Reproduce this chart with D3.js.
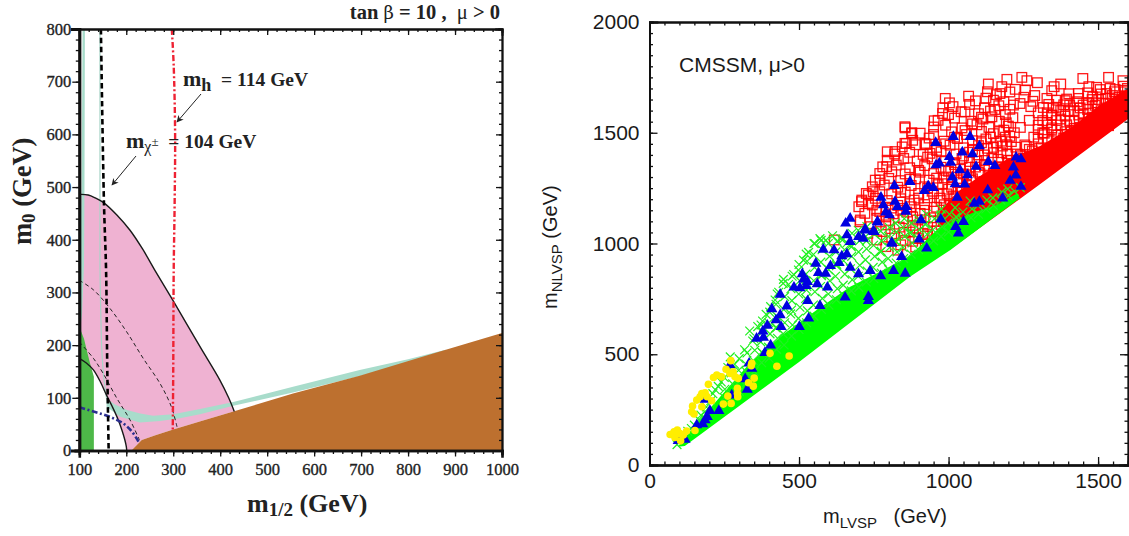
<!DOCTYPE html>
<html><head><meta charset="utf-8">
<script src="https://cdn.jsdelivr.net/npm/d3@7"></script>
<style>
html,body{margin:0;padding:0;background:#fff}
svg{display:block}
text{white-space:pre}
.serif{font-family:"Liberation Serif",serif;font-weight:bold;fill:#222}
.sans{font-family:"Liberation Sans",sans-serif;fill:#1a1a1a}
</style></head><body>
<svg id="c" width="1129" height="536"></svg>
<script>
// ---------- left panel data (m1/2, m0 in GeV)
const leftXTicks=[100,200,300,400,500,600,700,800,900,1000];
const leftYTicks=[0,100,200,300,400,500,600,700,800];
const brownEdge=[[211,0],[222,10],[233,20],[262,29],[300,40],[360,56],[428,74],[555,108],[697,142],[850,183],[1000,223]];
const pinkUpper=[[100,486],[119,485],[135,479],[151,471],[180,447],[208,418],[235,382],[261,342],[300,284],[357,197],[399,134],[418,100],[430,74]];
const lowerCurve=[[100,175],[115,166],[130,153],[145,130],[158,105],[172,80],[183,58],[191,38],[197,20],[200,8],[201,0]];
const greenEdge=[[100,0],[100,230],[104,226],[110,212],[116,190],[123,165],[131,140],[131,0]];
const tealBandUpper=[[158,99],[175,88],[201,77],[230,70],[257,66],[300,69],[357,79],[428,92],[555,121],[697,153],[800,173],[880,191]];
const tealBandLower=[[158,83],[187,64],[229,53],[272,56],[314,61],[357,69],[428,85],[555,110],[697,141],[800,167],[880,190]];
const tealStem=[[107,800],[112,800],[111,500],[110,350],[106,260],[102,230],[100,230],[101,350],[105,500]];
const tealThin=[[144,800],[144,500],[144,350],[146,250],[148,190],[152,140],[158,99]];
const contourOuter=[[100,323],[130,305],[165,270],[201,225],[236,175],[272,127],[296,83],[308,45]];
const contourInner=[[100,206],[130,175],[151,146],[180,99],[208,58],[228,20]];
const blueLine=[[100,82],[130,74],[162,65],[194,51],[212,36],[226,17]];
const charginoLine=[[146,800],[152.5,470],[157,342],[159.6,152],[162.5,0]];
const higgsLine=[[297,800],[301,730],[304,600],[303,470],[301,342],[300,150],[299,40]];

// ---------- right panel data (mLVSP, mNLVSP in GeV)
const rightXTicks=[0,500,1000,1500];
const rightYTicks=[0,500,1000,1500,2000];
const redSolid=[[1000,968],[1300,1262],[1600,1562],[1600,1700],[1500,1620],[1418,1530],[1306,1440],[1195,1380],[1100,1300],[1027,1230],[960,1130]];
const greenSolid=[[95,82],[118,86],[500,465],[871,850],[1005,970],[1239,1205],[1228,1226],[1161,1175],[1083,1140],[971,1075],[871,945],[782,880],[671,805],[559,700],[448,590],[336,460],[147,172]];
const redSquares=[
[1535,1750],[1449,1745],[1469,1708],[1375,1720],[1245,1750],[1262,1735],[1195,1741],[1297,1726],[1353,1708],[1133,1720],[1178,1708],[1223,1696],[1130,1685],[989,1655],[1003,1635],[981,1613],[980,1587],[952,1554],[855,1522],[877,1500],[925,1447],[858,1452],[1067,1665],[1042,1595],[1145,1572],[1193,1545],[1150,1647],[1172,1677],[1257,1693],[1317,1614],[1239,1632],[1217,1625],[1507,1695],[1557,1695],[1583,1735],[1434,1677],[1529,1677],[1468,1632],[1362,1647],[1329,1655],[1598,1700],[1590,1665],[618,1016],[709,1189],[732,1219],[771,1287],[793,1347],[795,1414],[854,1452],[821,1415],[854,1527],[877,1497],[921,1452],[938,1407],[832,1377],[732,1181],[748,1234],[704,1098],
[1160,1672],[1205,1684],[1288,1668],[1345,1690],[1402,1676],[1482,1662],[1548,1668],[1090,1644],[1125,1656],[1185,1640],[1252,1660],[1282,1642],[1335,1628],[1395,1652],[1430,1640],[1502,1650],[1570,1644],[1592,1630],
[1015,1618],[1070,1628],[1120,1612],[1168,1622],[1205,1606],[1275,1618],[1350,1612],[1385,1626],[1440,1612],[1490,1624],[1540,1610],[1585,1600],[1000,1582],[1055,1594],[1100,1586],[1140,1598],[1190,1582],[1300,1590],[1345,1578],[1400,1596],[1450,1586],[1500,1592],[1530,1576],[1570,1590],[1596,1612],
[965,1556],[1020,1566],[1075,1552],[1115,1562],[1170,1552],[1215,1568],[1270,1556],[1330,1546],[1375,1562],[1420,1552],[1470,1566],[1520,1556],[1560,1572],
[950,1526],[990,1534],[1045,1522],[1095,1536],[1135,1524],[1185,1512],[1240,1524],[1300,1534],[1345,1522],[1395,1536],[1440,1524],[1480,1540],[1535,1532],
[905,1498],[950,1492],[1010,1504],[1060,1492],[1110,1506],[1150,1496],[1205,1484],[1320,1498],[1365,1490],[1410,1504],[1450,1496],[1500,1522],
[880,1466],[935,1476],[985,1462],[1030,1474],[1080,1464],[1125,1472],[1175,1462],[1300,1472],[1345,1464],[1385,1476],[1430,1470],
[845,1436],[890,1446],[960,1434],[1005,1444],[1050,1432],[1100,1442],[1150,1434],[1195,1446],[1260,1438],[1310,1432],[1360,1444],[1400,1460],
[820,1404],[870,1412],[915,1402],[975,1414],[1025,1404],[1070,1412],[1120,1400],[1175,1410],[1230,1404],[1280,1418],[1335,1410],
[795,1376],[850,1384],[895,1372],[945,1382],[990,1374],[1045,1384],[1095,1372],[1145,1384],[1200,1376],[1250,1384],[1300,1392],
[780,1346],[825,1354],[870,1342],[920,1352],[975,1344],[1020,1356],[1070,1344],[1120,1352],[1170,1346],[1220,1354],[1270,1362],
[770,1316],[810,1324],[855,1314],[905,1322],[950,1316],[1000,1326],[1050,1314],[1100,1322],[1150,1316],[1195,1326],
[755,1286],[800,1294],[840,1284],[890,1292],[935,1286],[985,1296],[1030,1284],[1080,1292],[1130,1286],[1175,1296],
[745,1256],[785,1264],[830,1254],[875,1262],[920,1256],[965,1266],[1010,1254],[1060,1262],[1105,1256],[1150,1264],
[725,1226],[770,1234],[810,1224],[855,1232],[900,1226],[945,1236],[995,1224],[1040,1232],[1085,1228],[1130,1236],
[710,1196],[755,1204],[795,1194],[840,1202],[885,1196],[930,1206],[975,1194],[1020,1202],[1065,1200],
[700,1166],[745,1174],[790,1164],[830,1172],[875,1166],[920,1176],[960,1164],[1005,1172],[1050,1170],
[720,1136],[770,1144],[815,1134],[860,1142],[905,1136],[950,1146],[995,1134],[1040,1142],
[705,1106],[760,1114],[800,1104],[850,1112],[895,1106],[940,1116],[985,1104],
[740,1076],[790,1084],[835,1074],[880,1082],[930,1076],[975,1086],[730,1046],[775,1054],[820,1044],[870,1052],[915,1046],[960,1056],[760,1016],[810,1024],[855,1014],[900,1022],[945,1016],[790,986],[840,994],[890,984]];
const redSquaresDense=[
[1000,1150],[1030,1185],[1060,1215],[1090,1250],[1120,1280],[1150,1310],[1180,1345],[1210,1375],[1240,1400],[1270,1425],[1300,1450],[1330,1470],[1360,1490],[1390,1505],[1420,1520],[1450,1545],[1480,1570],[1510,1600],[1540,1630],[1570,1660],[1590,1685],
[985,1175],[1015,1215],[1045,1250],[1075,1285],[1105,1315],[1135,1345],[1165,1380],[1195,1405],[1225,1435],[1255,1445],[1285,1480],[1315,1500],[1345,1515],[1375,1535],[1405,1555],[1435,1580],[1465,1605],[1495,1635],[1525,1655],[1555,1685],[1585,1710],
[970,1205],[1000,1245],[1030,1275],[1060,1310],[1090,1345],[1120,1375],[1150,1410],[1180,1440],[1210,1460],[1300,1515],[1330,1535],[1360,1555],[1390,1575],[1420,1600],[1450,1625],[1480,1650],[1510,1675],[1540,1700],
[950,1225],[980,1270],[1010,1300],[1040,1335],[1070,1370],[1100,1400],[1130,1430],[1160,1455],[1190,1480],[1220,1500],[1315,1555],[1345,1580],[1375,1600],[1405,1625],[1435,1655],[1465,1680],[1495,1705],
[930,1250],[960,1295],[990,1330],[1020,1365],[1050,1395],[1080,1425],[1110,1455],[1140,1480],[1170,1505],[1200,1530],[1330,1590],[1360,1615],[1390,1645],
[900,1205],[870,1180],[840,1150],[880,1120],[920,1150],[950,1100],[980,1120],[1005,1130],[930,1040],[960,1010],[990,1060],[880,1010],[830,970],[850,1050],[890,1070],[1020,1120],[1040,1160],[1060,1170],[1080,1180],[1100,1200],[1120,1230],[1140,1260],[1170,1280],[1190,1310],
[760,1150],[790,1120],[810,1160],[840,1230],[870,1290],[900,1330],[930,1390],[960,1420],[990,1450],[1020,1480],[1055,1510],[1080,1540],[1110,1570],[1155,1605]];
const greenCrosses=[
[92,92],[105,118],[128,152],[150,180],[172,225],[190,262],[212,322],[230,355],[250,395],[262,440],[270,488],[285,455],[300,480],[318,520],[335,605],[345,560],[362,625],[378,650],[390,680],[405,715],[420,745],[432,780],[448,838],[465,815],[482,860],[500,905],[515,925],[532,960],[550,1000],[570,1022],[590,1015],[612,1035],[640,1022],[660,1002],
[250,304],[252,342],[300,332],[303,382],[298,428],[350,422],[347,472],[352,518],[349,570],[400,482],[398,532],[403,592],[399,642],[402,690],[450,542],[447,592],[452,642],[449,702],[452,760],[447,820],
[500,612],[498,662],[503,712],[499,772],[502,832],[498,880],[550,672],[548,722],[553,782],[549,832],[552,892],[548,950],[553,1000],
[600,722],[598,772],[603,832],[599,882],[602,942],[598,1000],[650,762],[648,812],[653,862],[649,922],[652,972],[648,1020],
[700,802],[698,852],[703,902],[699,962],[702,1012],[698,1060],[750,842],[748,892],[753,942],[749,992],[752,1042],
[800,882],[798,932],[803,982],[799,1032],[802,1072],[850,932],[848,982],[853,1032],[849,1072],[852,1112],
[900,972],[898,1022],[903,1062],[899,1112],[950,1012],[948,1062],[953,1112],[1000,1052],[998,1092],[1003,1132],[1050,1102],[1048,1142],[1100,1132],[1098,1172],[1150,1172],[1148,1206],[1200,1216],[1198,1246],[1240,1252],
[725,1012],[775,965],[825,1008],[875,1050],[925,1090],[975,1130],[1025,1120],[675,985],[625,900],[575,855],[525,790],[475,700],[425,620],[375,510],[325,420]];
const greenCrossesDense=[
[115,130],[140,165],[165,205],[185,240],[205,290],[220,340],[240,375],
[275,322],[278,366],[273,416],[325,372],[328,412],[322,456],[326,506],[375,462],[378,506],[372,556],[376,600],[373,632],
[425,522],[428,572],[422,620],[426,672],[423,726],[427,772],[475,582],[478,632],[472,682],[476,742],[473,796],[477,852],
[525,642],[528,696],[522,752],[526,806],[523,862],[527,920],[524,952],[575,702],[578,752],[572,806],[576,862],[573,916],[577,972],[574,1014],
[625,746],[628,796],[622,852],[626,906],[623,962],[627,1010],[675,786],[678,836],[672,886],[676,942],[673,992],[677,1046],
[725,826],[728,876],[722,926],[726,976],[723,1032],[727,1076],[775,866],[778,916],[772,962],[776,1012],[773,1056],
[825,912],[828,962],[822,1012],[826,1052],[823,1092],[875,952],[878,1002],[872,1046],[876,1092],
[925,992],[928,1042],[922,1086],[926,1132],[975,1032],[978,1076],[972,1122],[976,1156],[1025,1082],[1028,1116],[1022,1162],
[1075,1116],[1078,1156],[1072,1192],[1125,1156],[1128,1196],[1175,1196],[1178,1232],[1220,1236]];
const blueTriangles=[
[671,1113],[656,1091],[762,1098],[660,1038],[671,1008],[699,1030],[721,1060],[715,1023],[751,1053],[810,1000],[581,973],[617,970],[643,943],[660,952],[556,910],[605,899],[634,913],[671,892],[511,862],[565,868],[589,865],[699,862],[738,877],[773,853],[816,877],[855,865],[843,940],[515,838],[528,827],[524,809],[483,802],[503,799],[561,817],[595,802],[654,757],[732,760],[732,741],[437,770],[529,741],[570,719],[459,717],[409,704],[437,677],[423,654],[532,662],[394,630],[440,624],[501,624],[379,604],[358,571],[381,576],[405,541],[386,507],[333,459],[269,451],[342,436],[320,388],[336,361],[327,341],[275,315],[186,296],[232,245],[202,245],[193,218],[186,203],[158,180],[178,185],[119,115],[96,109],
[1016,1482],[1072,1482],[957,1455],[1103,1440],[1046,1412],[1080,1404],[1003,1392],[1007,1366],[958,1354],[969,1362],[1092,1347],[1133,1369],[1155,1351],[1226,1389],[1242,1381],[1217,1344],[1038,1332],[1063,1309],[1013,1299],[1225,1308],[1206,1284],[1022,1269],[1054,1267],[871,1279],[819,1261],[932,1260],[949,1252],[919,1238],[1242,1257],[1131,1241],[1029,1208],[774,1208],[1181,1204],[821,1189],[782,1174],[829,1166],[858,1166],[1086,1181],[1103,1189],[857,1144],[790,1141],[802,1129],[908,1106],[974,1109],[1050,1098],[763,1096],[721,1065],[748,1055],[1024,1076],[1033,1046],[902,1019],[810,1004],[927,978]];
const yellowCircles=[
[272,471],[342,459],[340,448],[403,504],[467,492],[426,446],[256,432],[269,413],[286,398],[225,406],[214,395],[241,398],[350,392],[294,346],[331,371],[347,356],[197,364],[186,326],[175,323],[169,308],[158,293],[193,308],[208,290],[144,266],[175,263],[141,240],[149,230],[262,311],[294,323],[295,308],[247,275],[273,278],[152,156],[124,153],[93,158],[82,150],[69,138],[85,124],[102,142],[104,109],[113,135],[280,421],[297,391]];

// ---------- scales
const svg=d3.select("#c");
const lx=d3.scaleLinear().domain([100,1000]).range([79.3,502]);
const ly=d3.scaleLinear().domain([0,800]).range([450.5,29]);
const rx=d3.scaleLinear().domain([0,1600]).range([649.5,1128]);
const ry=d3.scaleLinear().domain([0,2000]).range([465,22]);
const lp=d3.line().x(d=>lx(d[0])).y(d=>ly(d[1]));
const lc=d3.line().x(d=>lx(d[0])).y(d=>ly(d[1])).curve(d3.curveCatmullRom.alpha(0.5));
const rp=d3.line().x(d=>rx(d[0])).y(d=>ry(d[1]));
const defs=svg.append("defs");
defs.append("clipPath").attr("id","lclip").append("rect").attr("x",79.3).attr("y",29).attr("width",422.7).attr("height",421.5);
defs.append("clipPath").attr("id","rclip").append("rect").attr("x",649.5).attr("y",22).attr("width",478.5).attr("height",443);
defs.append("marker").attr("id","arr").attr("viewBox","0 0 10 10").attr("refX",9).attr("refY",5).attr("markerWidth",9).attr("markerHeight",7).attr("markerUnits","userSpaceOnUse").attr("orient","auto")
  .append("path").attr("d","M0,0L10,5L0,10L3,5Z").attr("fill","#222");

// ---------- left panel
const L=svg.append("g").attr("clip-path","url(#lclip)");
L.append("path").attr("fill","#efb2d2").attr("d",lp(pinkUpper.concat(brownEdge.slice().reverse().filter(d=>d[0]<430)).concat(lowerCurve.slice().reverse()))+"Z");
L.append("path").attr("fill","#4db848").attr("d",lp(greenEdge)+"Z");
L.append("path").attr("fill","#a8dccb").attr("d",lp(tealBandUpper.concat(tealBandLower.slice().reverse()))+"Z");
L.append("path").attr("fill","#a8dccb").attr("d",lp(tealStem)+"Z");
L.append("path").attr("fill","none").attr("stroke","#a9d5c8").attr("stroke-width",1.2).attr("d",lc(tealThin));
L.append("path").attr("fill","#bd702f").attr("d",lp(brownEdge.concat([[1000,0]]))+"Z");
L.append("path").attr("fill","none").attr("stroke","#1a1a1a").attr("stroke-width",1.4).attr("d",lc(pinkUpper));
L.append("path").attr("fill","none").attr("stroke","#1a1a1a").attr("stroke-width",1.4).attr("d",lc(lowerCurve));
[contourOuter,contourInner].forEach(c=>L.append("path").attr("fill","none").attr("stroke","#222").attr("stroke-width",1).attr("stroke-dasharray","4 3").attr("d",lc(c)));
L.append("path").attr("fill","none").attr("stroke","#2b2f8f").attr("stroke-width",2.6).attr("stroke-dasharray","6 2.5 2 2.5").attr("d",lc(blueLine));
L.append("path").attr("fill","none").attr("stroke","#000").attr("stroke-width",2.6).attr("stroke-dasharray","5.5 3.5").attr("d",lc(charginoLine));
L.append("path").attr("fill","none").attr("stroke","#ee2233").attr("stroke-width",2.4).attr("stroke-dasharray","6 2.5 2 2.5").attr("d",lc(higgsLine));

function range(a,b,s){return d3.range(a,b+s/2,s);}
function styleAxis(g,w){g.select(".domain").attr("stroke","#111").attr("stroke-width",w).attr("stroke-linecap","square");g.selectAll("line").attr("stroke","#111").attr("stroke-width",1.3);}
function axisSet(host,transform,gen,w){const g=host.append("g").attr("transform",transform).call(gen);styleAxis(g,w);return g;}
const intFmt=d3.format("d");
const lh=svg.append("g");
const lxMin=range(100,1000,20), lyMin=range(0,800,20);
axisSet(lh,"translate(0,450.5)",d3.axisBottom(lx).tickValues(lxMin).tickSize(3.5).tickFormat(""),2.6);
axisSet(lh,"translate(79.3,0)",d3.axisLeft(ly).tickValues(lyMin).tickSize(3.5).tickFormat(""),2.8);
axisSet(lh,"translate(0,29)",d3.axisBottom(lx).tickValues(lxMin).tickSize(3).tickFormat(""),1.8);
axisSet(lh,"translate(502,0)",d3.axisLeft(ly).tickValues(lyMin).tickSize(3).tickFormat(""),1.8);
axisSet(lh,"translate(0,29)",d3.axisBottom(lx).tickValues(leftXTicks).tickSize(6).tickFormat(""),1.8);
axisSet(lh,"translate(502,0)",d3.axisLeft(ly).tickValues(leftYTicks).tickSize(6).tickFormat(""),1.8);
const lbx=axisSet(lh,"translate(0,450.5)",d3.axisBottom(lx).tickValues(leftXTicks).tickSize(6).tickPadding(7).tickFormat(intFmt),2.6);
const lby=axisSet(lh,"translate(79.3,0)",d3.axisLeft(ly).tickValues(leftYTicks).tickSize(7).tickPadding(1).tickFormat(intFmt),2.8);
[lbx,lby].forEach(g=>g.selectAll("text").attr("class","serif").attr("font-family",null).style("font-size","16.5px").style("font-weight","normal").attr("stroke","#222").attr("stroke-width",0.35));

function txt(cls,x,y,size,anchor){return svg.append("text").attr("class",cls).attr("x",x).attr("y",y).style("font-size",size+"px").attr("text-anchor",anchor||"start");}
let t=txt("serif",500,19,20.5,"end");
t.append("tspan").text("tan ");t.append("tspan").style("font-weight","normal").attr("font-family","DejaVu Serif").style("font-size","18px").text("β");t.append("tspan").text(" = 10 ,  ");t.append("tspan").style("font-weight","normal").text("μ");t.append("tspan").text(" > 0");
t=txt("serif",247,512,26);
t.append("tspan").text("m");t.append("tspan").attr("dy",4).style("font-size","19px").text("1/2");t.append("tspan").attr("dy",-4).text(" (GeV)");
t=svg.append("text").attr("class","serif").attr("transform","translate(31,245) rotate(-90)").style("font-size","26.5px");
t.append("tspan").text("m");t.append("tspan").attr("dy",4).style("font-size","19px").text("0");t.append("tspan").attr("dy",-4).text(" (GeV)");
t=txt("serif",183,86,22);
t.append("tspan").text("m");t.append("tspan").attr("dy",5).style("font-size","18px").text("h");t.append("tspan").attr("dy",-5).style("font-size","19.5px").text("  = 114 GeV");
t=txt("serif",126,148,22);
t.append("tspan").text("m");t.append("tspan").attr("dy",4).style("font-size","16px").style("font-weight","normal").text("χ");t.append("tspan").attr("dy",-6).style("font-size","13px").style("font-weight","normal").text("±");t.append("tspan").attr("dy",2).style("font-size","19.5px").text("  = 104 GeV");
[[[201,94],[177,122]],[[136,156],[112,185]]].forEach(a=>svg.append("line").attr("x1",a[0][0]).attr("y1",a[0][1]).attr("x2",a[1][0]).attr("y2",a[1][1]).attr("stroke","#222").attr("stroke-width",1).attr("marker-end","url(#arr)"));

// ---------- right panel
const R=svg.append("g").attr("clip-path","url(#rclip)");
R.append("path").attr("fill","#ff0000").attr("d",rp(redSolid)+"Z");
R.selectAll(".sq").data(redSquares.concat(redSquaresDense)).join("rect").attr("x",d=>rx(d[0])-4.8).attr("y",d=>ry(d[1])-4.8).attr("width",9.6).attr("height",9.6).attr("fill","none").attr("stroke","#ff0000").attr("stroke-opacity",0.9).attr("stroke-width",1.3);
R.append("path").attr("fill","#00ff00").attr("d",rp(greenSolid)+"Z");
const cross=d3.symbol().type(d3.symbolTimes).size(52);
R.selectAll(".cr").data(greenCrosses.concat(greenCrossesDense)).join("path").attr("d",cross).attr("transform",d=>`translate(${rx(d[0])},${ry(d[1])})`).attr("fill","none").attr("stroke","#22f022").attr("stroke-width",1.2);
const tri=d3.symbol().type(d3.symbolTriangle).size(54);
R.selectAll(".tr").data(blueTriangles).join("path").attr("d",tri).attr("transform",d=>`translate(${rx(d[0])},${ry(d[1])})`).attr("fill","#0000e0");
R.selectAll(".ci").data(yellowCircles).join("circle").attr("cx",d=>rx(d[0])).attr("cy",d=>ry(d[1])).attr("r",3.8).attr("fill","#ffee00");

const rh=svg.append("g");
const rxMin=range(0,1600,50), ryMin=range(0,2000,50);
axisSet(rh,"translate(0,465)",d3.axisTop(rx).tickValues(rxMin).tickSize(3.5).tickFormat(""),1.8);
axisSet(rh,"translate(0,22)",d3.axisBottom(rx).tickValues(rxMin).tickSize(3.5).tickFormat(""),1.8);
axisSet(rh,"translate(649.5,0)",d3.axisRight(ry).tickValues(ryMin).tickSize(3.5).tickFormat(""),1.8);
axisSet(rh,"translate(1128,0)",d3.axisLeft(ry).tickValues(ryMin).tickSize(3.5).tickFormat(""),1.8);
axisSet(rh,"translate(0,22)",d3.axisBottom(rx).tickValues(rightXTicks).tickSize(8).tickFormat(""),1.8);
axisSet(rh,"translate(1128,0)",d3.axisLeft(ry).tickValues(rightYTicks).tickSize(8).tickFormat(""),1.8);
const rbx=rh.append("g").attr("transform","translate(0,465)").call(d3.axisBottom(rx).tickValues(rightXTicks).tickSize(0).tickPadding(8).tickFormat(intFmt));
const rby=rh.append("g").attr("transform","translate(649.5,0)").call(d3.axisLeft(ry).tickValues(rightYTicks).tickSize(0).tickPadding(10).tickFormat(intFmt));
[rbx,rby].forEach(g=>{g.select(".domain").attr("stroke","#111").attr("stroke-width",1.8);g.selectAll("text").attr("class","sans").attr("font-family",null).style("font-size","21px");});
rh.append("g").attr("transform","translate(0,465)").call(d3.axisTop(rx).tickValues(rightXTicks).tickSize(8).tickFormat("")).call(g=>styleAxis(g,1.8));
rh.append("g").attr("transform","translate(649.5,0)").call(d3.axisRight(ry).tickValues(rightYTicks).tickSize(8).tickFormat("")).call(g=>styleAxis(g,1.8));

t=txt("sans",679,72,21);
t.text("CMSSM, μ>0");
t=txt("sans",823,523,20);
t.append("tspan").text("m");t.append("tspan").attr("dy",5).style("font-size","15px").text("LVSP");t.append("tspan").attr("dy",-5).text("   (GeV)");
t=svg.append("text").attr("class","sans").attr("transform","translate(557,309) rotate(-90)").style("font-size","20px");
t.append("tspan").text("m");t.append("tspan").attr("dy",5).style("font-size","15px").text("NLVSP");t.append("tspan").attr("dy",-5).text(" (GeV)");
</script>
</body></html>
